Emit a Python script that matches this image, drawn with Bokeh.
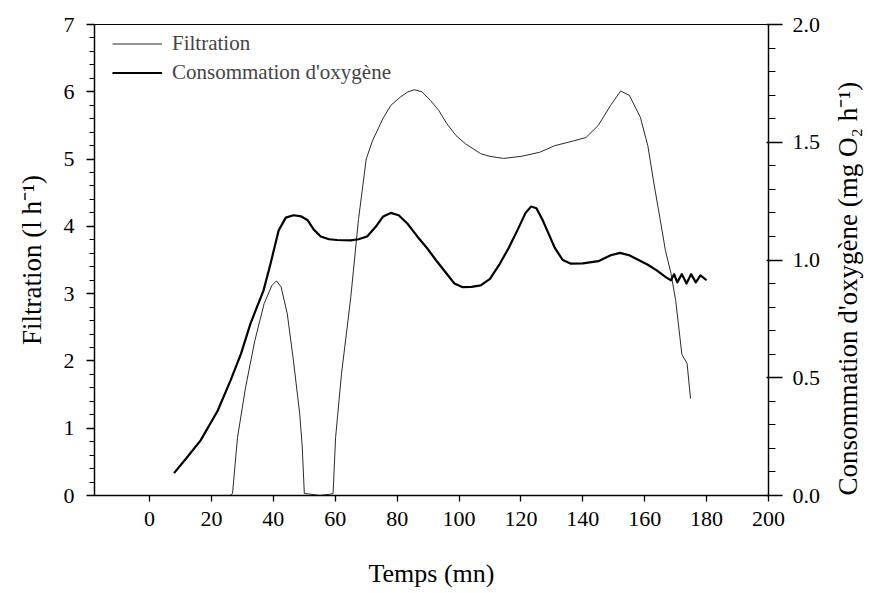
import numpy as np
from bokeh.plotting import figure
from bokeh.models import (Range1d, LinearAxis, FixedTicker, Legend,
                          LegendItem, NumeralTickFormatter)
from bokeh.embed import file_html
from bokeh.resources import INLINE

# Filtration rate (l h-1), left axis
time_filt = [26, 26.8, 28.4, 31, 34, 37, 39.5, 41, 42.5, 44.5, 46.5, 48.5, 49.3, 50,
             52, 55, 58.5, 59.3, 60.1, 62, 65, 67.5, 70, 72, 75.6, 78, 81, 83.5, 85.6,
             88, 90.8, 93.5, 96, 99, 102, 107, 110, 114.4, 120, 126, 131, 137, 141,
             145, 149, 152.2, 155, 158.6, 161, 163, 165, 166.7, 168.5, 170, 172,
             173.7, 174.8]
filtration = [0, 0.03, 0.86, 1.6, 2.3, 2.85, 3.12, 3.19, 3.1, 2.7, 2.0, 1.22, 0.75,
              0.03, 0.02, 0.0, 0.02, 0.03, 0.86, 1.8, 2.94, 4.1, 5.0, 5.27, 5.62, 5.8,
              5.92, 6.0, 6.03, 6.0, 5.87, 5.72, 5.53, 5.35, 5.23, 5.08, 5.04, 5.01,
              5.04, 5.1, 5.2, 5.27, 5.32, 5.5, 5.8, 6.01, 5.95, 5.62, 5.2, 4.63, 4.1,
              3.64, 3.3, 2.9, 2.1, 1.96, 1.44]

# Oxygen consumption (mg O2 h-1), right axis
time_o2 = [7.9, 12, 16.5, 22, 26.2, 29.5, 32.6, 36.8, 39, 41.7, 44, 46.5, 49, 51, 53,
           55.3, 58, 60.6, 65, 67.5, 70.3, 73, 75.5, 77.9, 80.5, 83.3, 86.5, 89.7,
           92.5, 95.5, 98.5, 101, 104, 107, 110, 113, 116, 119, 121.5, 123.3, 125,
           127, 129, 131, 133.5, 136, 140, 145, 149, 152, 155, 158, 161, 164, 167,
           168.5, 169.5, 170.5, 172, 173.5, 175, 176.5, 178, 180]
oxygen = [0.095, 0.16, 0.234, 0.36, 0.49, 0.6, 0.73, 0.87, 0.98, 1.125, 1.18, 1.19,
          1.185, 1.17, 1.13, 1.10, 1.088, 1.085, 1.083, 1.088, 1.10, 1.14, 1.185, 1.2,
          1.19, 1.155, 1.10, 1.05, 1.0, 0.95, 0.9, 0.885, 0.886, 0.892, 0.92, 0.98,
          1.05, 1.13, 1.2, 1.227, 1.22, 1.17, 1.11, 1.05, 1.0, 0.985, 0.986, 0.995,
          1.02, 1.03, 1.02, 1.0, 0.98, 0.955, 0.925, 0.914, 0.94, 0.905, 0.94, 0.9,
          0.94, 0.905, 0.935, 0.914]

x_ticks = list(range(0, 201, 20))
filt_ticks = list(range(0, 8))
filt_minor = [round(v * 0.2, 1) for v in range(0, 36)]
o2_ticks = [0.0, 0.5, 1.0, 1.5, 2.0]
o2_minor = [round(v * 0.1, 1) for v in range(0, 21)]

FONT = "Liberation Serif"
O2_TITLE = "Consommation d'oxygène (mg O₂ h⁻¹)"

p = figure(width=882, height=593, output_backend="svg", toolbar_location=None,
           x_range=Range1d(-17.8, 200), y_range=Range1d(0, 7),
           min_border_left=94, min_border_right=114,
           min_border_top=24, min_border_bottom=98)
p.extra_y_ranges = {"o2": Range1d(0, 2)}
p.xgrid.visible = False
p.ygrid.visible = False
p.outline_line_color = "black"
p.outline_line_width = 1.2
p.background_fill_color = "white"
p.border_fill_color = "white"

r_f = p.line(time_filt, filtration, line_color="#2a2a2a", line_width=1.0)
r_o = p.line(time_o2, oxygen, y_range_name="o2", line_color="black",
             line_width=2.2, line_join="round")

# bottom axis
xa = p.xaxis[0]
xa.ticker = FixedTicker(ticks=x_ticks)
xa.axis_label = "Temps (mn)"
xa.major_tick_out = 6
xa.major_tick_in = 0
xa.minor_tick_out = 0
xa.minor_tick_in = 0
xa.major_label_standoff = 10
xa.axis_label_standoff = 30

# left axis
ya = p.yaxis[0]
ya.ticker = FixedTicker(ticks=filt_ticks, minor_ticks=filt_minor)
ya.axis_label = "Filtration (l h⁻¹)"
ya.major_tick_out = 8
ya.major_tick_in = 0
ya.minor_tick_out = 5
ya.minor_tick_in = 0
ya.major_label_standoff = 12
ya.axis_label_standoff = 14

# right axis, title reading upwards from the bottom of the axis
ra = LinearAxis(y_range_name="o2",
                ticker=FixedTicker(ticks=o2_ticks, minor_ticks=o2_minor),
                formatter=NumeralTickFormatter(format="0.0"),
                axis_label=O2_TITLE, axis_label_orientation=np.pi / 2)
if "axis_label_align" in ra.properties():
    ra.axis_label_align = "start"
ra.major_tick_out = 14
ra.major_tick_in = 2
ra.minor_tick_out = 7
ra.minor_tick_in = 0
ra.major_label_standoff = 10
ra.axis_label_standoff = 25
p.add_layout(ra, "right")

for ax in (xa, ya, ra):
    ax.axis_line_color = "black"
    ax.axis_line_width = 1.3
    ax.major_tick_line_color = "black"
    ax.major_tick_line_width = 1.3
    ax.minor_tick_line_color = "black"
    ax.minor_tick_line_width = 1.1
    ax.major_label_text_font = FONT
    ax.major_label_text_font_size = "22px"
    ax.major_label_text_color = "black"
    ax.axis_label_text_font = FONT
    ax.axis_label_text_font_size = "27px"
    ax.axis_label_text_font_style = "normal"
    ax.axis_label_text_color = "black"
xa.axis_label_text_font_size = "26px"

legend = Legend(items=[LegendItem(label="Filtration", renderers=[r_f]),
                       LegendItem(label="Consommation d'oxygène", renderers=[r_o])],
                location=(18, 408))
legend.border_line_color = None
legend.background_fill_alpha = 0
legend.label_text_font = FONT
legend.label_text_font_size = "21px"
legend.glyph_width = 50
legend.glyph_height = 29
legend.label_height = 29
legend.spacing = 0
legend.padding = 0
legend.margin = 0
legend.label_standoff = 10
p.add_layout(legend)

open("out.html", "w").write(file_html(p, INLINE))
